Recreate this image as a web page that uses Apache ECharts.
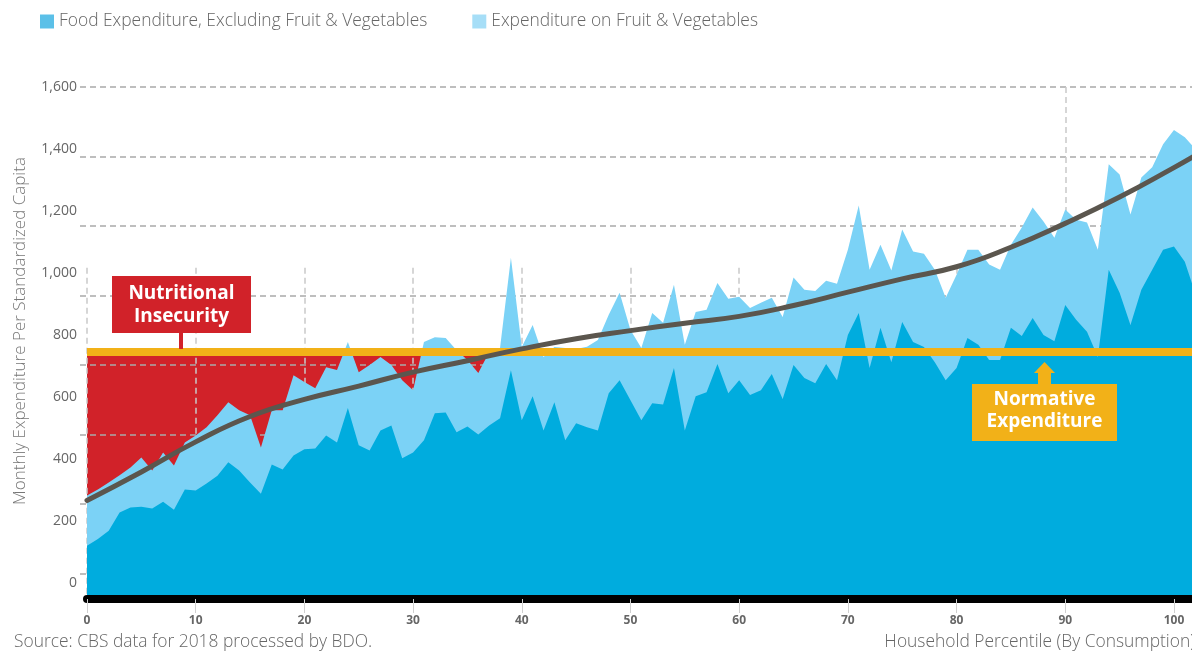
<!DOCTYPE html>
<html>
<head>
<meta charset="utf-8">
<script src="https://cdn.jsdelivr.net/npm/echarts@6/dist/echarts.min.js"></script>
<style>
  html, body { margin: 0; padding: 0; background: #fff; }
  #chart { width: 1192px; height: 653px; }
</style>
</head>
<body>
<div id="chart"></div>
<script>
// Household percentile (by consumption)
const percentiles = [
  0, 1, 2, 3, 4, 5, 6, 7, 8, 9, 10, 11, 12, 13, 14, 15, 16, 17, 18, 19,
  20, 21, 22, 23, 24, 25, 26, 27, 28, 29, 30, 31, 32, 33, 34, 35, 36, 37, 38, 39,
  40, 41, 42, 43, 44, 45, 46, 47, 48, 49, 50, 51, 52, 53, 54, 55, 56, 57, 58, 59,
  60, 61, 62, 63, 64, 65, 66, 67, 68, 69, 70, 71, 72, 73, 74, 75, 76, 77, 78, 79,
  80, 81, 82, 83, 84, 85, 86, 87, 88, 89, 90, 91, 92, 93, 94, 95, 96, 97, 98, 99,
  100, 101, 102
];

// Monthly food expenditure excluding fruit & vegetables
const foodExclFruitVeg = [
  120, 142, 168, 227, 243, 246, 240, 262, 236, 301,
  298, 321, 346, 389, 363, 324, 288, 382, 366, 411,
  431, 434, 476, 453, 564, 444, 427, 492, 508, 402,
  421, 460, 547, 550, 486, 505, 479, 508, 531, 686,
  525, 602, 492, 583, 460, 515, 502, 492, 612, 654,
  589, 525, 580, 576, 693, 492, 602, 615, 706, 612,
  654, 606, 622, 674, 593, 703, 661, 644, 706, 654,
  800, 871, 693, 823, 712, 842, 777, 761, 712, 654,
  693, 790, 768, 719, 719, 823, 797, 855, 800, 780,
  897, 849, 810, 729, 1010, 936, 832, 946, 1010, 1075,
  1085, 1036, 930
];

// Monthly expenditure on fruit & vegetables (sits on top of the above)
const fruitVeg = [
  162, 159, 156, 120, 129, 159, 123, 159, 143, 152,
  178, 181, 195, 194, 194, 217, 149, 175, 191, 259,
  217, 194, 220, 234, 213, 236, 276, 237, 195, 252,
  201, 317, 246, 240, 265, 214, 198, 237, 227, 363,
  236, 230, 237, 178, 298, 240, 260, 292, 253, 282,
  227, 233, 291, 263, 269, 276, 272, 266, 262, 305,
  269, 281, 282, 246, 265, 282, 285, 298, 269, 311,
  275, 347, 317, 268, 296, 298, 292, 301, 298, 266,
  301, 285, 307, 308, 291, 268, 350, 356, 366, 334,
  308, 323, 353, 346, 341, 382, 357, 362, 331, 340,
  376, 402, 469
];

// Smoothed total expenditure trend
const trendPercentiles = [0, 5, 10, 15, 20, 25, 30, 35, 40, 45, 50, 55, 60, 65, 70, 75, 80, 85, 90, 95, 100, 102];
const trendValues = [266, 358, 455, 537, 592, 635, 680, 717, 755, 788, 814, 838, 860, 895, 938, 981, 1020, 1083, 1160, 1245, 1340, 1380];

// Normative food expenditure and the insecurity band below it
const normative = 745;
const insecurityEnd = 38;

// Axis tick labels
const xTicks = [0, 10, 20, 30, 40, 50, 60, 70, 80, 90, 100];
const yTicks = [0, 200, 400, 600, 800, 1000, 1200, 1400, 1600];

const C = {
  dark: '#00ACDE',
  light: '#7BD2F6',
  red: '#D12229',
  orange: '#F2B118',
  trend: '#5B564E',
  text: '#666666'
};
const FONT = '"Open Sans", "Noto Sans", sans-serif';

const X_MIN = 0, X_MAX = 101.66;
const Y_MIN = -39, Y_MAX = 1600;

// total food expenditure = the two components added together
const totalFood = foodExclFruitVeg.map((v, i) => v + fruitVeg[i]);
const pairs = (xs, ys) => xs.map((x, i) => [x, ys[i]]);

// vertical dashed guides, visible in the white space above the areas
const vGuides = xTicks.map(x => [
  { coord: [x, x === 90 ? Y_MAX : 1017] },
  { coord: [x, Y_MIN] }
]);

const chart = echarts.init(document.getElementById('chart'), null, { renderer: 'canvas' });

chart.setOption({
  animation: false,
  backgroundColor: '#fff',
  textStyle: { fontFamily: FONT },
  legend: {
    left: 35,
    top: 8,
    itemWidth: 14,
    itemHeight: 14,
    itemGap: 45,
    icon: 'rect',
    textStyle: { fontSize: 17.4, color: C.text, fontFamily: FONT, fontWeight: 300 },
    data: [
      { name: 'Food Expenditure, Excluding Fruit & Vegetables', itemStyle: { color: '#5BC0E8' } },
      { name: 'Expenditure on Fruit & Vegetables', itemStyle: { color: '#A6DEF7' } }
    ],
    selectedMode: false
  },
  grid: [
    { left: 87, right: 0, top: 87, bottom: 58, containLabel: false },
    { left: 80, right: 0, top: 87, bottom: 79.5, containLabel: false }
  ],
  xAxis: [
    {
      type: 'value', gridIndex: 0, min: X_MIN, max: X_MAX,
      offset: 4,
      axisLine: { show: true, onZero: false, lineStyle: { color: '#000', width: 8 } },
      axisTick: { show: true, customValues: xTicks, length: 14, lineStyle: { color: '#cfcfcf', width: 1 } },
      axisLabel: { customValues: xTicks, margin: 16, fontSize: 12, fontWeight: 'bold', color: C.text, fontFamily: FONT },
      splitLine: { show: false }
    },
    {
      type: 'value', gridIndex: 1, min: 0, max: 1, show: false
    }
  ],
  yAxis: [
    {
      type: 'value', gridIndex: 0, min: Y_MIN, max: Y_MAX,
      name: 'Monthly Expenditure Per Standardized Capita',
      nameLocation: 'middle', nameGap: 58, nameRotate: 90,
      nameTextStyle: { fontSize: 17, color: '#777', fontFamily: FONT, fontWeight: 300, padding: [0, 0, 0, 20] },
      axisLine: { show: false },
      axisTick: { show: false },
      axisLabel: {
        customValues: yTicks, margin: 10, fontSize: 14, color: C.text, fontFamily: FONT,
        formatter: v => v.toLocaleString('en-US')
      },
      splitLine: { show: false }
    },
    {
      type: 'value', gridIndex: 1, min: 0, max: 7, interval: 1, z: 2,
      axisLine: { show: false }, axisTick: { show: false }, axisLabel: { show: false },
      splitLine: { show: true, lineStyle: { type: [6, 4], color: '#a9a9a9', width: 1.5 } }
    }
  ],
  series: [
    {
      name: 'Nutritional Insecurity',
      type: 'line', xAxisIndex: 0, yAxisIndex: 0, z: 1,
      data: [[0, normative], [insecurityEnd, normative]],
      showSymbol: false, lineStyle: { width: 0 },
      areaStyle: { color: C.red, opacity: 1, origin: 'start' },
      markLine: {
        silent: true, z: 2, animation: false, symbol: ['none', 'none'],
        label: { show: false },
        lineStyle: { type: [6, 4], color: '#c9c9c9', width: 1.5 },
        data: vGuides
      }
    },
    {
      name: 'Expenditure on Fruit & Vegetables',
      type: 'line', z: 3,
      data: pairs(percentiles, totalFood),
      showSymbol: false, lineStyle: { width: 0 },
      itemStyle: { color: C.light },
      areaStyle: { color: C.light, opacity: 1, origin: 'start' }
    },
    {
      name: 'Food Expenditure, Excluding Fruit & Vegetables',
      type: 'line', z: 4,
      data: pairs(percentiles, foodExclFruitVeg),
      showSymbol: false, lineStyle: { width: 0 },
      itemStyle: { color: C.dark },
      areaStyle: { color: C.dark, opacity: 1, origin: 'start' }
    },
    {
      name: 'Normative Expenditure',
      type: 'line', z: 5,
      data: [[0, normative], [102, normative]],
      showSymbol: false,
      lineStyle: { color: C.orange, width: 8 }
    },
    {
      name: 'Trend',
      type: 'line', z: 6,
      data: pairs(trendPercentiles, trendValues),
      smooth: 0.5,
      showSymbol: false,
      lineStyle: { color: C.trend, width: 5, cap: 'round' }
    }
  ],
  graphic: [
    // "Nutritional Insecurity" callout
    { type: 'rect', z: 20, shape: { x: 112, y: 276, width: 139, height: 57 }, style: { fill: C.red } },
    { type: 'rect', z: 20, shape: { x: 179, y: 332, width: 4, height: 17 }, style: { fill: C.red } },
    {
      type: 'text', z: 21, x: 181.5, y: 305,
      style: { text: 'Nutritional\nInsecurity', fill: '#fff', font: 'bold 19px ' + FONT, align: 'center', verticalAlign: 'middle', lineHeight: 23 }
    },
    // "Normative Expenditure" callout with arrow
    { type: 'polygon', z: 20, shape: { points: [[1044.5, 362], [1034, 373], [1055, 373]] }, style: { fill: C.orange } },
    { type: 'rect', z: 20, shape: { x: 1038, y: 372, width: 13, height: 13 }, style: { fill: C.orange } },
    { type: 'rect', z: 20, shape: { x: 972, y: 384, width: 145, height: 57 }, style: { fill: C.orange } },
    {
      type: 'text', z: 21, x: 1044.5, y: 411,
      style: { text: 'Normative\nExpenditure', fill: '#fff', font: 'bold 19px ' + FONT, align: 'center', verticalAlign: 'middle', lineHeight: 22 }
    },
    // footer texts
    {
      type: 'text', z: 21, left: 14, top: 634,
      style: { text: 'Source: CBS data for 2018 processed by BDO.', fill: C.text, font: '300 17.4px ' + FONT }
    },
    {
      type: 'text', z: 21, right: -3, top: 634,
      style: { text: 'Household Percentile (By Consumption)', fill: C.text, font: '300 17.4px ' + FONT }
    }
  ]
});
</script>
</body>
</html>
